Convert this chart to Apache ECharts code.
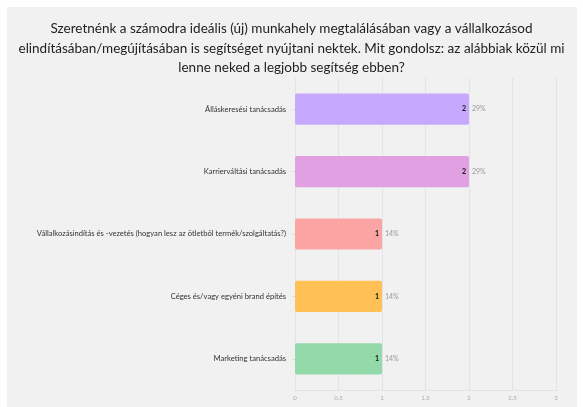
<!DOCTYPE html>
<html><head><meta charset="utf-8">
<script src="https://cdn.jsdelivr.net/npm/echarts@6/dist/echarts.min.js"></script>
<style>html,body{margin:0;padding:0;background:#fff}#c{width:583px;height:407px}</style>
</head><body><div id="c"></div>
<script>
const titleText = "Szeretnénk a számodra ideális (új) munkahely megtalálásában vagy a vállalkozásod\nelindításában/megújításában is segítséget nyújtani nektek. Mit gondolsz: az alábbiak közül mi\nlenne neked a legjobb segítség ebben?";
const categories = ["Álláskeresési tanácsadás","Karrierváltási tanácsadás","Vállalkozásindítás és -vezetés (hogyan lesz az ötletből termék/szolgáltatás?)","Céges és/vagy egyéni brand építés","Marketing tanácsadás"];
const values = [2,2,1,1,1];
const percents = ["29%","29%","14%","14%","14%"];
const colors = ["#c6a8fc","#e1a0e1","#fba4a4","#ffc055","#94d9aa"];
const xTicks = [0,0.5,1,1.5,2,2.5,3];

const chart = echarts.init(document.getElementById('c'));
chart.setOption({
  animation:false,
  graphic:[{type:'rect',z:-10,shape:{x:7,y:7,width:570,height:400},style:{fill:'#f1f1f1'}}],
  title:{text:titleText,left:'center',top:14,textStyle:{fontFamily:'Lato',fontSize:13.5,fontWeight:'normal',color:'#222',lineHeight:19.5}},
  grid:{left:295,right:27,top:78,bottom:17,containLabel:false},
  xAxis:{type:'value',min:0,max:3,interval:0.5,
    axisLine:{show:true,lineStyle:{color:'#e2e2ea'}},axisTick:{show:false},
    axisLabel:{color:'#aaa',fontSize:6,margin:5,fontFamily:'Lato'},
    splitLine:{lineStyle:{color:'#e2e2ea',width:1}}},
  yAxis:{type:'category',inverse:true,data:categories,
    axisLine:{show:true,lineStyle:{color:'#e2e2ea'}},
    axisTick:{show:true,length:3,lineStyle:{color:'#ddd'},alignWithLabel:true},
    axisLabel:{color:'#333',fontSize:7.6,margin:9,fontFamily:'Lato'}},
  series:[
    {type:'bar',data:values.map((v,i)=>({value:v,itemStyle:{color:colors[i]}})),barWidth:'50%',
     itemStyle:{borderRadius:2},
     label:{show:true,position:'insideRight',color:'#111',fontSize:7,fontWeight:'bold',distance:3,fontFamily:'Lato'}},
    {type:'bar',data:values,barWidth:'50%',barGap:'-100%',itemStyle:{color:'transparent'},silent:true,
     label:{show:true,position:'right',distance:3,color:'#999',fontSize:7,fontFamily:'Lato',formatter:p=>percents[p.dataIndex]}}
  ]
});
</script></body></html>
